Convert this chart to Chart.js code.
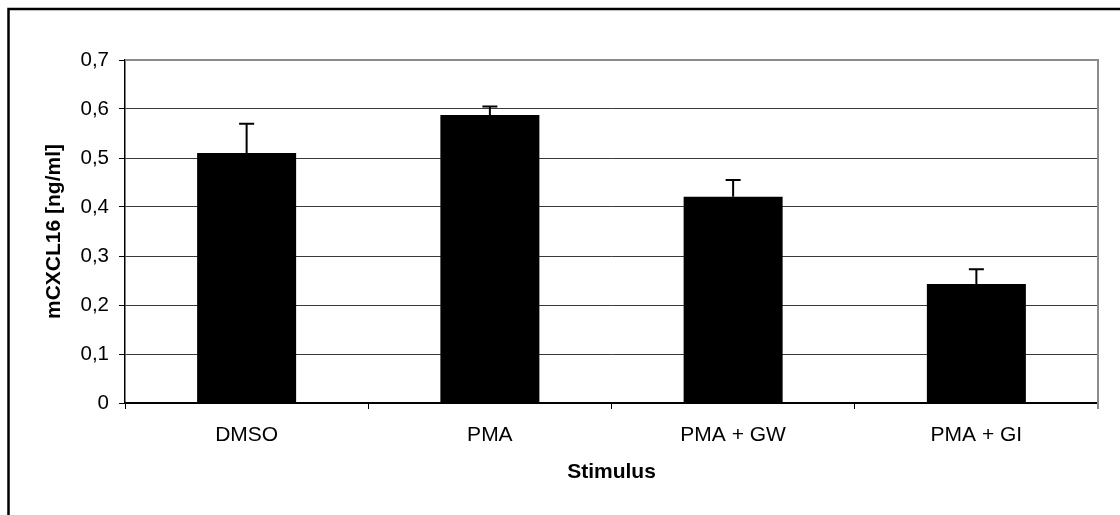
<!DOCTYPE html>
<html>
<head>
<meta charset="utf-8">
<script src="https://cdn.jsdelivr.net/npm/chart.js@4"></script>
<style>
  html, body { margin: 0; padding: 0; background: #fff; }
  canvas { display: block; }
</style>
</head>
<body>
<canvas id="grafico" width="1120" height="515"></canvas>
<script>
const categorias = ['DMSO', 'PMA', 'PMA + GW', 'PMA + GI'];
const medias = [0.51, 0.588, 0.421, 0.243];
const desvios = [0.06, 0.017, 0.034, 0.03];
const ticksY = [0, 0.1, 0.2, 0.3, 0.4, 0.5, 0.6, 0.7];

const fonte = '"Liberation Sans", Arial, sans-serif';

// moldura externa (só topo e esquerda aparecem no recorte)
const moldura = {
  id: 'moldura',
  beforeDraw(chart) {
    const c = chart.ctx;
    c.save();
    c.fillStyle = '#fff';
    c.fillRect(0, 0, chart.width, chart.height);
    c.strokeStyle = '#000';
    c.lineWidth = 2.5;
    c.beginPath();
    c.moveTo(8.5, chart.height + 2);
    c.lineTo(8.5, 9);
    c.lineTo(chart.width + 2, 9);
    c.stroke();
    c.restore();
  }
};

// borda cinza da área do gráfico (topo e direita)
const bordaArea = {
  id: 'bordaArea',
  beforeDatasetsDraw(chart) {
    const a = chart.chartArea;
    const c = chart.ctx;
    c.save();
    c.strokeStyle = '#8c8c8c';
    c.lineWidth = 2;
    c.beginPath();
    c.moveTo(a.left, a.top);
    c.lineTo(a.right, a.top);
    c.lineTo(a.right, a.bottom + 6);
    c.stroke();
    c.restore();
  }
};

// barras de erro (só para cima)
const barrasErro = {
  id: 'barrasErro',
  afterDatasetsDraw(chart) {
    const meta = chart.getDatasetMeta(0);
    const y = chart.scales.y;
    const c = chart.ctx;
    c.save();
    c.strokeStyle = '#000';
    c.lineWidth = 2;
    meta.data.forEach((bar, i) => {
      const topo = y.getPixelForValue(medias[i] + desvios[i]);
      c.beginPath();
      c.moveTo(bar.x, bar.y);
      c.lineTo(bar.x, topo);
      c.moveTo(bar.x - 7.5, topo);
      c.lineTo(bar.x + 7.5, topo);
      c.stroke();
    });
    c.restore();
  }
};

const ctx = document.getElementById('grafico').getContext('2d');
new Chart(ctx, {
  type: 'bar',
  data: {
    labels: categorias,
    datasets: [{
      data: medias,
      backgroundColor: '#000',
      borderColor: '#000',
      borderWidth: 0,
      categoryPercentage: 1,
      barPercentage: 0.407
    }]
  },
  options: {
    responsive: false,
    animation: false,
    events: [],
    layout: { padding: { left: 0, top: 60, right: 22, bottom: 0 } },
    plugins: {
      legend: { display: false },
      tooltip: { enabled: false }
    },
    scales: {
      x: {
        afterFit(scale) { scale.height = 112; },
        grid: {
          offset: true,
          drawOnChartArea: false,
          drawTicks: true,
          tickLength: 6,
          color: '#000'
        },
        border: { color: '#000', width: 1.5 },
        ticks: {
          color: '#000',
          padding: 14,
          font: { family: fonte, size: 21 }
        },
        title: {
          display: true,
          text: 'Stimulus',
          color: '#000',
          padding: { top: 0, bottom: 30 },
          font: { family: fonte, size: 21, weight: 'bold' }
        }
      },
      y: {
        min: 0,
        max: 0.7,
        afterFit(scale) { scale.width = 125; },
        afterBuildTicks(scale) { scale.ticks = ticksY.map(v => ({ value: v })); },
        grid: {
          color: ctx => ctx.tick && ctx.tick.value === 0 ? '#000' : '#3a3a3a',
          lineWidth: 1,
          tickLength: 6,
          tickColor: '#000'
        },
        border: { color: '#000', width: 1.5 },
        ticks: {
          color: '#000',
          padding: 10,
          font: { family: fonte, size: 20.5 },
          callback: v => v === 0 ? '0' : v.toFixed(1).replace('.', ',')
        },
        title: {
          display: true,
          text: 'mCXCL16 [ng/ml]',
          color: '#000',
          padding: { top: 42, bottom: 0 },
          font: { family: fonte, size: 21, weight: 'bold' }
        }
      }
    }
  },
  plugins: [moldura, bordaArea, barrasErro]
});
</script>
</body>
</html>
